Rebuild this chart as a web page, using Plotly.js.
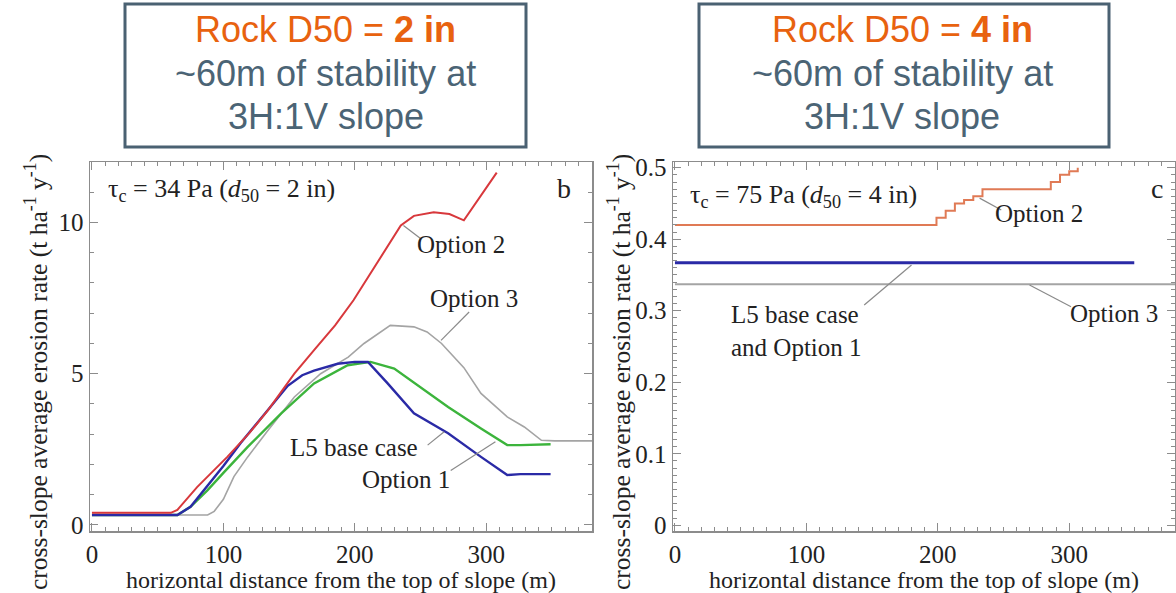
<!DOCTYPE html>
<html><head><meta charset="utf-8">
<script src="https://cdn.plot.ly/plotly-3.0.1.min.js"></script>
<style>html,body{margin:0;padding:0;background:#fff}#chart{width:1176px;height:593px}</style>
</head><body><div id="chart"></div>
<script>
// ---- Panel b (tau_c = 34 Pa, d50 = 2 in) ----
const bOpt2X = [0, 60, 65, 80, 103, 120, 134, 154, 169, 185, 199, 220, 235, 245, 260, 272, 283, 308];
const bOpt2Y = [0.4, 0.4, 0.5, 1.25, 2.25, 3.05, 3.8, 5.0, 5.78, 6.6, 7.43, 8.85, 9.9, 10.22, 10.34, 10.28, 10.07, 11.65];
const bOpt1X = [0, 65, 75, 85.5, 100, 113, 130, 149, 160, 169, 187, 200, 210, 225, 245, 271, 296, 316, 326, 349];
const bOpt1Y = [0.33, 0.33, 0.6, 1.16, 1.95, 2.7, 3.6, 4.6, 4.95, 5.1, 5.33, 5.39, 5.39, 4.68, 3.69, 3.03, 2.25, 1.65, 1.68, 1.68];
const bBaseX = [0, 65, 75, 88, 100, 118.5, 144, 169, 194.6, 212, 230, 250, 271, 296, 316, 326, 349];
const bBaseY = [0.33, 0.33, 0.6, 1.15, 1.72, 2.58, 3.69, 4.68, 5.28, 5.39, 5.17, 4.56, 3.9, 3.19, 2.64, 2.64, 2.67];
const bOpt3X = [0, 88, 93, 100, 108, 118.5, 134, 154, 174, 195, 207, 215, 227, 245, 255, 266, 283, 296, 316, 329, 342, 352, 382];
const bOpt3Y = [0.33, 0.33, 0.45, 0.85, 1.6, 2.25, 3.13, 4.23, 5.0, 5.55, 6.0, 6.25, 6.6, 6.55, 6.38, 6.0, 5.2, 4.35, 3.57, 3.24, 2.8, 2.78, 2.78];

// ---- Panel c (tau_c = 75 Pa, d50 = 4 in) ----
const cOpt2X = [0, 199, 206, 213, 220, 227, 234, 286, 293, 300, 306.5];
const cOpt2Y = [0.42, 0.43, 0.44, 0.45, 0.455, 0.46, 0.47, 0.48, 0.49, 0.495, 0.5];
const cBaseX = [0, 349.5];
const cBaseY = [0.367, 0.367];
const cOpt3X = [0, 382];
const cOpt3Y = [0.337, 0.337];

// titles
const xTitle = 'horizontal distance from the top of slope (m)';
const yTitle = 'cross-slope average erosion rate (t ha<sup>-1</sup> y<sup>-1</sup>)';

const W = 1176, H = 593;
const PX = p => p / W, PY = p => 1 - p / H;

const serif = 'Liberation Serif, Times New Roman, serif';
const sans = 'Liberation Sans, Arial, sans-serif';
const frame = '#8c8c8c';
const txt = '#222';

const traces = [
  {x: bOpt3X, y: bOpt3Y, xaxis: 'x', yaxis: 'y', mode: 'lines', line: {color: '#a4a4a4', width: 1.6}},
  {x: bBaseX, y: bBaseY, xaxis: 'x', yaxis: 'y', mode: 'lines', line: {color: '#3cb43c', width: 2.4}},
  {x: bOpt1X, y: bOpt1Y, xaxis: 'x', yaxis: 'y', mode: 'lines', line: {color: '#2a2aa6', width: 2.4}},
  {x: bOpt2X, y: bOpt2Y, xaxis: 'x', yaxis: 'y', mode: 'lines', line: {color: '#d8383c', width: 2}},
  {x: cOpt3X, y: cOpt3Y, xaxis: 'x2', yaxis: 'y2', mode: 'lines', line: {color: '#a4a4a4', width: 2}},
  {x: cBaseX, y: cBaseY, xaxis: 'x2', yaxis: 'y2', mode: 'lines', line: {color: '#2a2aa6', width: 3}},
  {x: cOpt2X, y: cOpt2Y, xaxis: 'x2', yaxis: 'y2', mode: 'lines', line: {color: '#e07a55', width: 2, shape: 'hv'}}
];

function xax(domain, anchor) {
  return {
    domain: domain, anchor: anchor, range: [-1.5, 380.5], tick0: 0, dtick: 100,
    ticks: 'inside', ticklen: 8, tickwidth: 1, tickcolor: frame,
    minor: {dtick: 10, ticks: 'inside', ticklen: 4, tickcolor: frame, tickwidth: 1},
    showline: true, linecolor: frame, linewidth: 1.5, mirror: 'allticks',
    showgrid: false, zeroline: false,
    tickfont: {family: serif, size: 25, color: txt},
    title: {text: xTitle, font: {family: serif, size: 24, color: txt}, standoff: 5}
  };
}
function yax(domain, anchor, range, dtick, minor) {
  return {
    domain: domain, anchor: anchor, range: range, tick0: 0, dtick: dtick,
    ticks: 'inside', ticklen: 8, tickwidth: 1, tickcolor: frame,
    minor: {dtick: minor, ticks: 'inside', ticklen: 4, tickcolor: frame, tickwidth: 1},
    showline: true, linecolor: frame, linewidth: 1.5, mirror: 'allticks',
    showgrid: false, zeroline: false,
    tickfont: {family: serif, size: 25, color: txt}
  };
}

const yDom = [PY(531), PY(162)];

const lbl = (xr, yr, x, y, text, extra) => Object.assign({
  xref: xr, yref: yr, x: x, y: y, text: text, showarrow: false,
  xanchor: 'center', yanchor: 'middle',
  font: {family: serif, size: 25, color: txt}
}, extra || {});
const boxTxt = (cx, cy, text, color) => ({
  xref: 'paper', yref: 'paper', x: PX(cx), y: PY(cy), text: text, showarrow: false,
  xanchor: 'center', yanchor: 'middle', font: {family: sans, size: 36, color: color}
});

const annotations = [
  // box texts
  boxTxt(326, 29, 'Rock D50 = <b>2 in</b>', '#e8620f'),
  boxTxt(326, 73, '~60m of stability at', '#4b6475'),
  boxTxt(326, 117, '3H:1V slope', '#4b6475'),
  boxTxt(902, 29, 'Rock D50 = <b>4 in</b>', '#e8620f'),
  boxTxt(902, 73, '~60m of stability at', '#4b6475'),
  boxTxt(902, 117, '3H:1V slope', '#4b6475'),
  // y axis titles
  lbl('paper', 'paper', PX(36), PY(372), yTitle, {textangle: -90, font: {family: serif, size: 25.5, color: txt}}),
  lbl('paper', 'paper', PX(619), PY(372), yTitle, {textangle: -90, font: {family: serif, size: 25.5, color: txt}}),
  // panel headers
  lbl('paper', 'paper', PX(106), PY(190), 'τ<sub>c</sub> = 34 Pa (<i>d</i><sub>50</sub> = 2 in)', {xanchor: 'left', font: {family: serif, size: 26, color: txt}}),
  lbl('paper', 'paper', PX(573), PY(189), 'b', {xanchor: 'right', font: {family: serif, size: 28, color: txt}}),
  lbl('paper', 'paper', PX(688), PY(196), 'τ<sub>c</sub> = 75 Pa (<i>d</i><sub>50</sub> = 4 in)', {xanchor: 'left', font: {family: serif, size: 26, color: txt}}),
  lbl('paper', 'paper', PX(1165), PY(189), 'c', {xanchor: 'right', font: {family: serif, size: 28, color: txt}}),
  // panel b labels
  lbl('x', 'y', 281, 9.27, 'Option 2'),
  lbl('x', 'y', 291, 7.49, 'Option 3'),
  lbl('x', 'y', 199.5, 2.55, 'L5 base case'),
  lbl('x', 'y', 239, 1.49, 'Option 1'),
  // panel c labels
  lbl('x2', 'y2', 277, 0.4365, 'Option 2'),
  lbl('x2', 'y2', 334, 0.2965, 'Option 3'),
  lbl('x2', 'y2', 92.5, 0.272, 'L5 base case<br>and Option 1', {align: 'left'})
];

const lead = (xr, yr, x0, y0, x1, y1) => ({type: 'line', xref: xr, yref: yr, x0: x0, y0: y0, x1: x1, y1: y1, line: {color: '#8a8a8a', width: 1.2}});
const boxLine = {color: '#4a6172', width: 3};
const shapes = [
  {type: 'rect', xref: 'paper', yref: 'paper', x0: PX(125), x1: PX(526), y0: PY(147), y1: PY(4), line: boxLine},
  {type: 'rect', xref: 'paper', yref: 'paper', x0: PX(699), x1: PX(1109), y0: PY(147), y1: PY(4), line: boxLine},
  lead('x', 'y', 250, 9.47, 237, 9.9),
  lead('x', 'y', 287, 7.04, 265.6, 6.1),
  lead('x', 'y', 255.4, 2.64, 268, 3.08),
  lead('x', 'y', 273, 1.8, 307, 2.75),
  lead('x2', 'y2', 248.3, 0.441, 231.8, 0.4575),
  lead('x2', 'y2', 301.4, 0.3057, 269.8, 0.336),
  lead('x2', 'y2', 144, 0.308, 180, 0.364)
];

const layout = {
  width: W, height: H, margin: {l: 0, r: 0, t: 0, b: 0},
  paper_bgcolor: '#fff', plot_bgcolor: '#fff', showlegend: false,
  font: {family: serif, color: txt},
  xaxis: xax([PX(90), PX(592)], 'y'),
  yaxis: yax(yDom, 'x', [-0.2, 12], 5, 1),
  xaxis2: xax([PX(673), PX(1175)], 'y2'),
  yaxis2: yax(yDom, 'x2', [-0.008, 0.508], 0.1, 0.01),
  annotations: annotations, shapes: shapes
};

Plotly.newPlot('chart', traces, layout, {displayModeBar: false, staticPlot: true});
</script></body></html>
